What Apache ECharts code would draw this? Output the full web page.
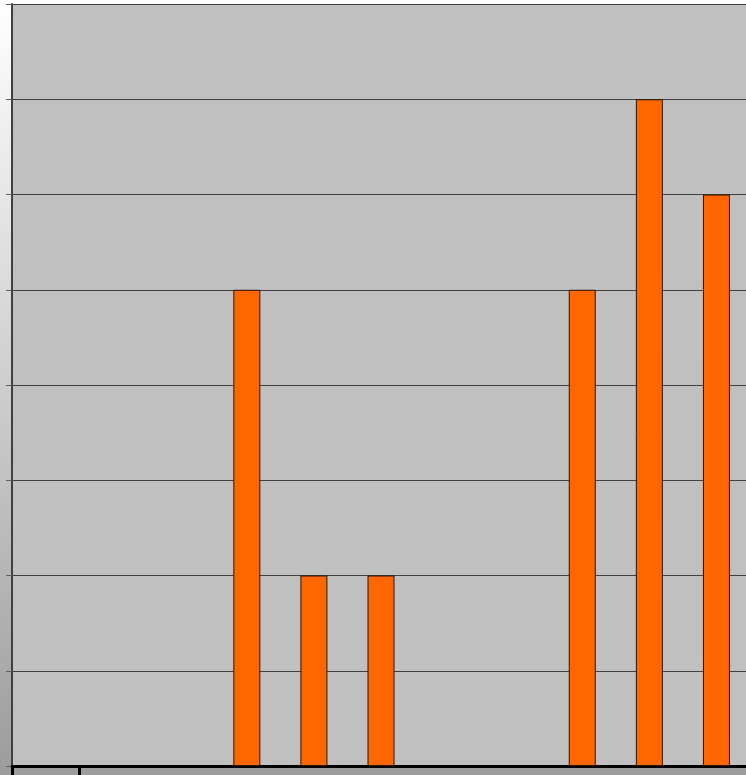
<!DOCTYPE html>
<html>
<head>
<meta charset="utf-8">
<script src="https://cdn.jsdelivr.net/npm/echarts@6/dist/echarts.min.js"></script>
<style>html,body{margin:0;padding:0;overflow:hidden;width:746px;height:775px;}#c{width:780px;height:775px;}</style>
</head>
<body>
<div id="c"></div>
<script>
var categories = ['', '', '', '', '', '', '', '', '', '', ''];
var values = [0, 0, 0, 5, 2, 2, 0, 0, 5, 7, 6];
var yMin = 0, yMax = 8, yStep = 1;

var chart = echarts.init(document.getElementById('c'));
chart.setOption({
  animation: false,
  backgroundColor: {
    type: 'linear', x: 0, y: 0, x2: 0, y2: 1,
    colorStops: [{offset: 0, color: '#ffffff'}, {offset: 1, color: '#9c9c9c'}]
  },
  grid: {
    show: true, left: 12, top: 4, width: 738, height: 762,
    backgroundColor: '#c0c0c0', borderWidth: 0, containLabel: false
  },
  xAxis: {
    type: 'category', data: categories, boundaryGap: true,
    axisLine: {lineStyle: {color: '#000000', width: 3}},
    axisTick: {show: true, length: 9, lineStyle: {color: '#000000', width: 3},
      interval: function (i) { return i <= 1; }},
    axisLabel: {show: false},
    splitLine: {show: false}
  },
  yAxis: {
    type: 'value', min: yMin, max: yMax, interval: yStep,
    axisLine: {show: true, lineStyle: {color: '#404040', width: 2}},
    axisTick: {show: true, length: 6, lineStyle: {color: '#606060', width: 1}},
    axisLabel: {show: false},
    splitLine: {show: true, lineStyle: {color: '#404040', width: 1}}
  },
  series: [{
    type: 'bar', data: values.map(function (v) { return v === 0 ? null : v; }), barWidth: 27,
    itemStyle: {color: '#ff6600', borderColor: '#2a1500', borderWidth: 1}
  }]
});
</script>
</body>
</html>
